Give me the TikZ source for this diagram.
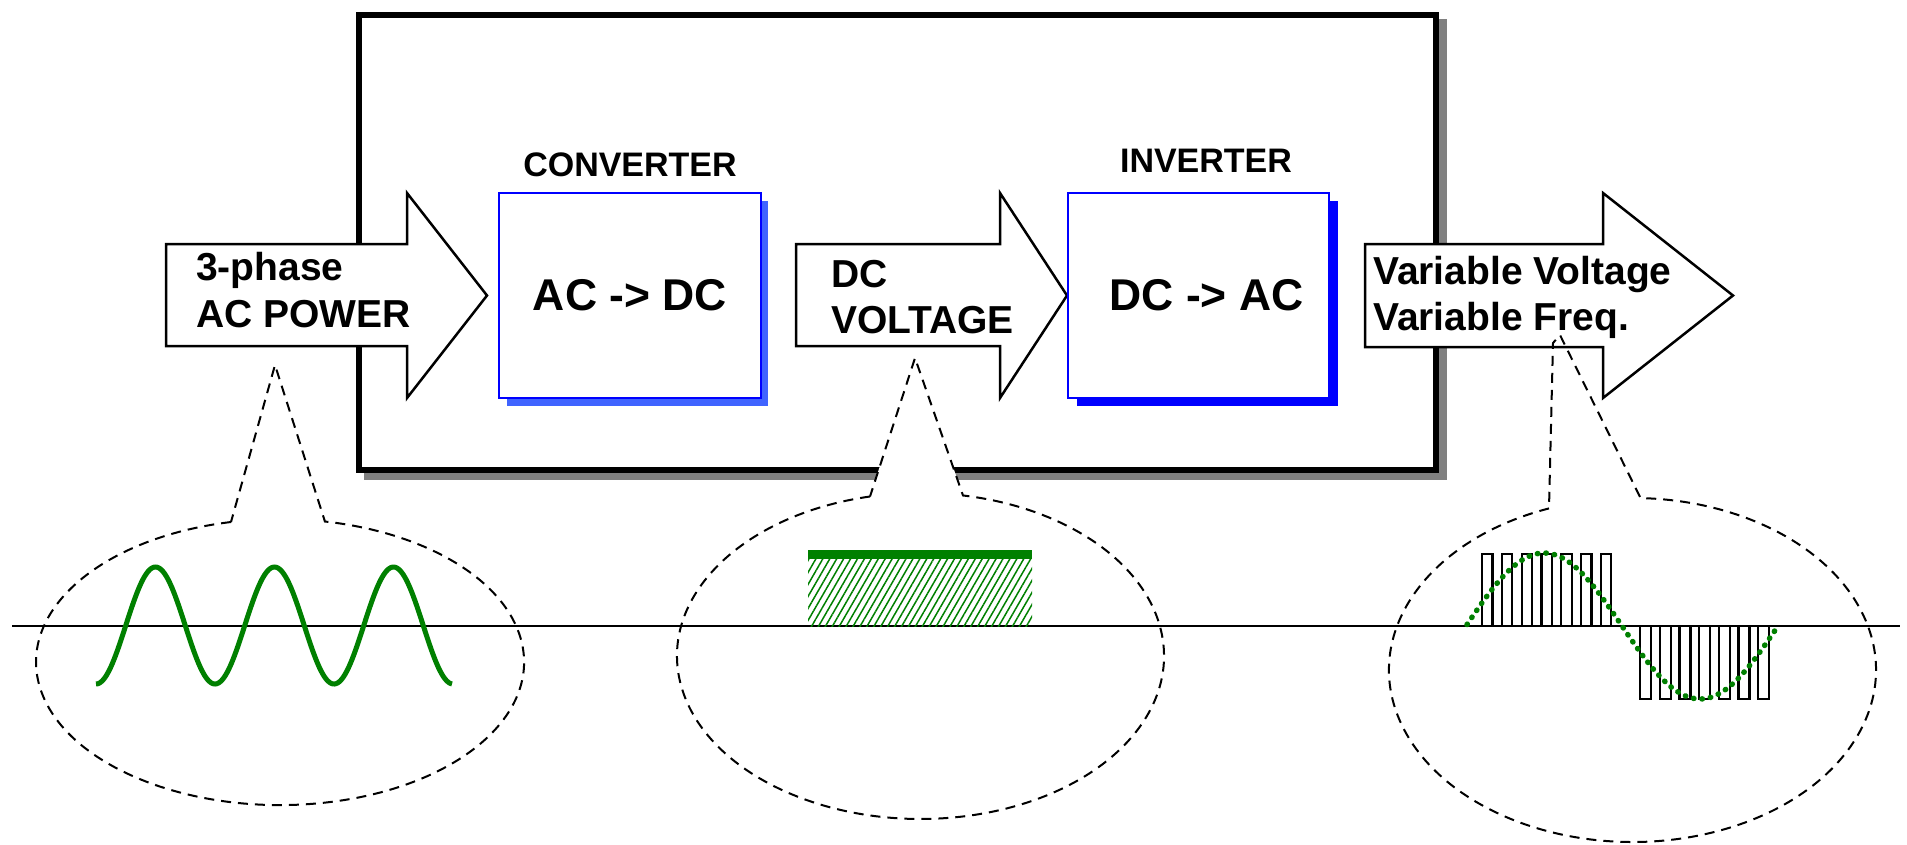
\documentclass[tikz,border=0pt]{standalone}
\usepackage{fontspec}
\setmainfont{Liberation Sans}
\usetikzlibrary{patterns.meta}
\definecolor{wgreen}{RGB}{0,128,0}
\definecolor{sblue}{RGB}{0,0,255}
\definecolor{lblue}{RGB}{64,100,255}
\definecolor{sgray}{RGB}{128,128,128}
\begin{document}
\begin{tikzpicture}[x=1pt,y=-1pt,
  frame/.style={draw=black,line width=6pt,fill=white},
  bigarrow/.style={draw=black,line width=2.5pt,fill=white,line join=miter},
  blockbox/.style={draw=sblue,line width=2.5pt,fill=white,minimum width=262pt,minimum height=205pt,inner sep=0pt,font=\fontsize{44.5}{50}\selectfont\bfseries},
  toplabel/.style={anchor=base,inner sep=0pt,font=\fontsize{34}{40}\selectfont\bfseries},
  arrowtext/.style={anchor=base west,inner sep=0pt,font=\fontsize{39}{47}\selectfont\bfseries},
  callout/.style={draw=black,line width=2pt,dash pattern=on 10pt off 7pt},
  axisline/.style={draw=black,line width=2pt},
  pulse/.style={draw=black,line width=2.2pt,line join=miter}]
\useasboundingbox (0,0) rectangle (1907,844);
\fill[white] (0,0) rectangle (1907,844);
% outer frame with shadow
\fill[sgray] (364,18.5) rectangle (1447,480);
\draw[frame] (359,14.5) rectangle (1436,470);
% callouts 1 and 2 (white filled)
\coordinate (tip1) at (275,365);
\coordinate (tip2) at (915,358);
\draw[callout,fill=white] (231,522) arc[start angle=258.4,end angle=-79.4,x radius=244,y radius=143] -- (tip1) -- cycle;
\draw[callout,fill=white] (870,496.5) arc[start angle=258.03,end angle=-79.95,x radius=243.5,y radius=163] -- (tip2) -- cycle;
% block arrows
\draw[bigarrow] (166,244) -- (407,244) -- (407,193) -- (487,295.5) -- (407,398) -- (407,346) -- (166,346) -- cycle;
\draw[bigarrow] (796,244) -- (1000,244) -- (1000,193) -- (1067,295.5) -- (1000,398) -- (1000,346) -- (796,346) -- cycle;
\draw[bigarrow] (1365,244) -- (1603,244) -- (1603,193) -- (1733,295.5) -- (1603,398) -- (1603,347) -- (1365,347) -- cycle;
\node[arrowtext] (t1a) at (196,280) {3-phase};
\node[arrowtext] (t1b) at (196,327) {AC POWER};
\node[arrowtext] (t2a) at (831,287) {DC};
\node[arrowtext] (t2b) at (831,333) {VOLTAGE};
\node[arrowtext] (t3a) at (1373,284) {Variable Voltage};
\node[arrowtext] (t3b) at (1373,330) {Variable Freq.};
% converter and inverter blocks
\fill[lblue] (507,201) rectangle (768,406);
\node[blockbox] (conv) at (630,295.5) {AC -> DC};
\node[toplabel] (convl) at (630,176) {CONVERTER};
\fill[sblue] (1077,201) rectangle (1338,406);
\node[blockbox,minimum width=261pt] (inv) at (1198.5,295.5) {\hspace*{16pt}DC -> AC};
\node[toplabel] (invl) at (1206,172) {INVERTER};
% callout 3 (outline only)
\coordinate (tip3a) at (1560,335);
\coordinate (tip3b) at (1553,343);
\draw[callout] (1549,508.4) arc[start angle=249.95,end angle=-88.1,x radius=243.5,y radius=172] -- (tip3a) -- (tip3b) -- cycle;
% axis
\draw[axisline] (12,626) -- (1900,626);
% AC sine
\draw[wgreen,line width=5pt] plot[domain=96:452,samples=240,smooth] (\x,{625.5+58.5*cos((\x-96)*3.02521)});
% DC level
\fill[pattern={Lines[angle=60,distance=6pt,line width=1.5pt]},pattern color=wgreen] (808,559) rectangle (1032,626);
\fill[wgreen] (808,550) rectangle (1032,559);
% PWM pulses
\foreach \i in {0,...,6}{
  \pgfmathsetmacro\xa{1482+19.8*\i}
  \draw[pulse] (\xa,626) -- (\xa,554) -- ++(10.5,0) -- ++(0,72);
  \pgfmathsetmacro\xb{1640+19.7*\i}
  \draw[pulse] (\xb,626) -- (\xb,699) -- ++(11,0) -- ++(0,-73);
}
\draw[wgreen,line width=5.5pt,line cap=round,dash pattern=on 0.5pt off 8pt] plot[domain=1467:1779,samples=120,smooth] (\x,{626-73*sin((\x-1466)*1.15385)});
\end{tikzpicture}
\end{document}
